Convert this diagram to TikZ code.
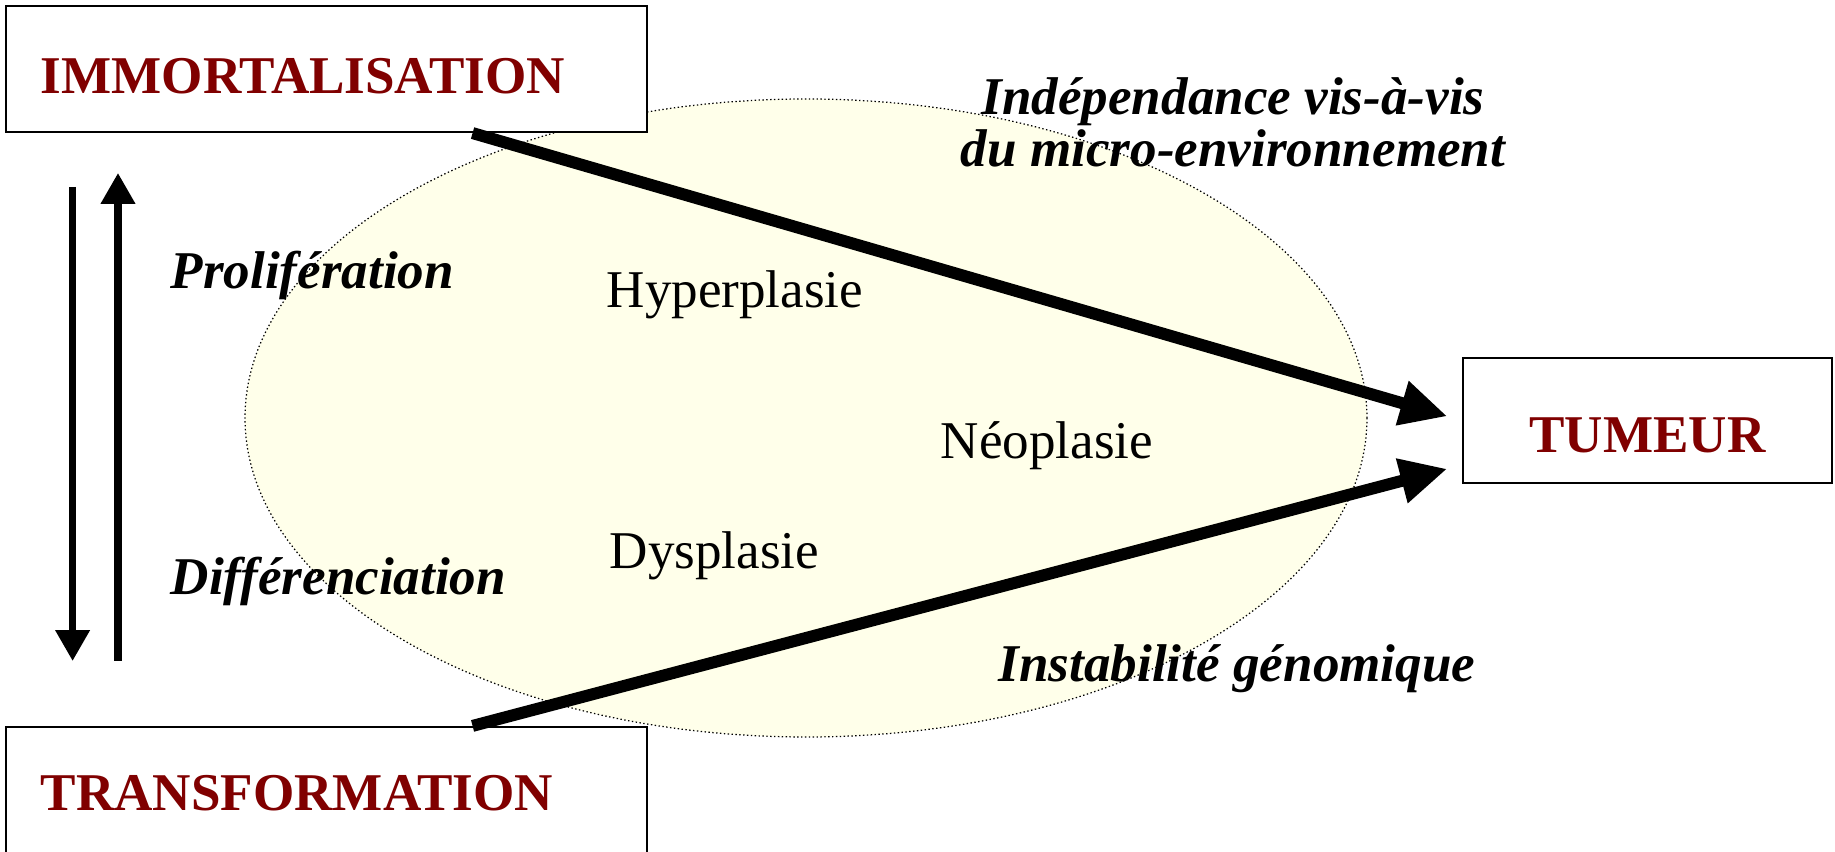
\documentclass[tikz,border=0pt]{standalone}
\usepackage{fontspec}
\setmainfont{Liberation Serif}
\usepackage{xcolor}
\definecolor{bordeaux}{RGB}{128,0,0}
\definecolor{creme}{RGB}{255,255,234}
\usetikzlibrary{calc,arrows.meta,positioning}
\tikzset{
  stade/.style={rectangle, draw=black, line width=0.6pt, fill=white, text=bordeaux, inner sep=0pt,
    font=\fontsize{15.1}{18}\selectfont\bfseries},
  stadeg/.style={stade, minimum width=6.41cm, minimum height=1.26cm, text width=5.71cm, align=left},
  zone/.style={fill=creme, draw=black, line width=0.35pt, dash pattern=on 0.4pt off 0.7pt},
  etiq/.style={font=\fontsize{15.1}{14.8}\selectfont\bfseries\itshape, inner sep=0pt},
  etat/.style={font=\fontsize{15.1}{18}\selectfont, inner sep=0pt},
  grosse/.style={draw, line width=3.4pt, -{Triangle[length=13.4pt,width=12.2pt]}, shorten >=0.15cm},
  fine/.style={draw, line width=2pt, -{Triangle[length=8.8pt,width=9.4pt]}},
}
\begin{document}
\begin{tikzpicture}[x=0.01cm,y=-0.01cm]
    \useasboundingbox (0,0) rectangle (1835,852);

    \draw[zone] (806,418) ellipse [x radius=561, y radius=319];

    \node[stadeg, text height=0.49cm] (immo) at (326.5,69) {IMMORTALISATION};
    \node[stadeg, text height=0.42cm] (transfo) at (326.5,790) {TRANSFORMATION};
    \node[stade, minimum width=3.69cm, minimum height=1.25cm, text height=0.64cm] (tumeur) at (1647.5,420.5) {TUMEUR};

    \coordinate (immo-out) at ($(immo.south west)!0.727!(immo.south east)$);
    \coordinate (transfo-out) at ($(transfo.north west)!0.727!(transfo.north east)$);
    \coordinate (tumeur-bas) at ($(tumeur.west)+(0,44.5)$);

    \coordinate (desc-haut) at (72.6,187);
    \coordinate (desc-bas) at (72.6,661);
    \coordinate (mont-bas) at (118,661);
    \coordinate (mont-haut) at (118,173);

    \node[etiq, anchor=base west] (prolif) at (170,289) {Prolifération};
    \node[etiq, anchor=base west] (diff) at (170,595) {Différenciation};
    \node[etat, anchor=base west] (hyper) at (606,308) {Hyperplasie};
    \node[etat, anchor=base west] (neo) at (940,459) {Néoplasie};
    \node[etat, anchor=base west] (dys) at (609,569) {Dysplasie};
    \node[etiq, align=center, anchor=base] (indep) at (1233,167) {Indépendance vis-à-vis\\du micro-environnement};
    \node[etiq, anchor=base] (instab) at (1237,682) {Instabilité génomique};

    \begin{scope}
      \path[grosse] (immo-out) -- (tumeur.west);
      \path[grosse] (transfo-out) -- (tumeur-bas);
      \path[fine] (desc-haut) -- (desc-bas);
      \path[fine] (mont-bas) -- (mont-haut);
    \end{scope}
\end{tikzpicture}
\end{document}
